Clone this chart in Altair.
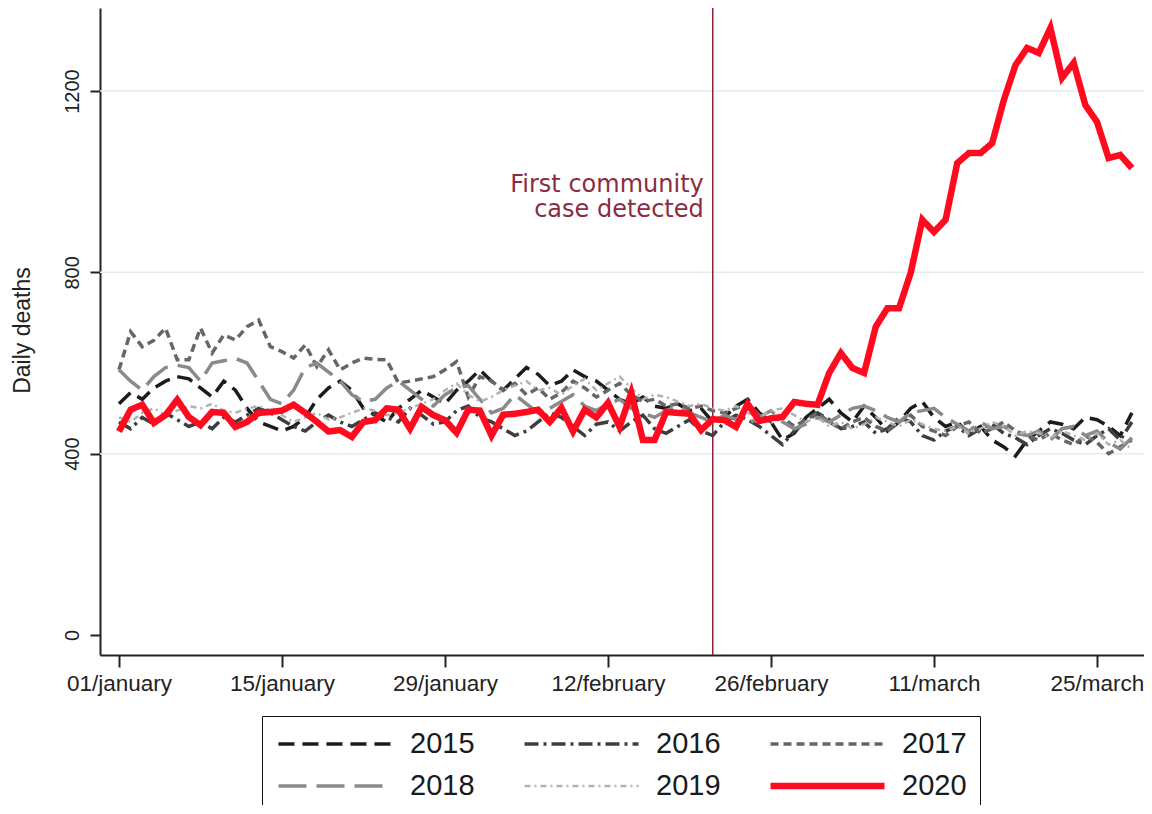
import altair as alt
import pandas as pd

days = list(range(1, 89))
years = ["2015", "2016", "2017", "2018", "2019", "2020"]

d2015 = [510, 535, 520, 545, 560, 570, 565, 545, 525, 560,
         540, 500, 470, 460, 450, 460, 480, 520, 545, 560,
         540, 500, 485, 470, 500, 520, 540, 525, 510, 540,
         560, 585, 560, 540, 565, 590, 575, 550, 560, 585,
         570, 560, 540, 520, 510, 525, 505, 500, 510, 495,
         500, 470, 480, 505, 520, 490, 470, 430, 445, 480,
         500, 520, 490, 470, 505, 480, 450, 470, 500, 515,
         480, 460, 470, 445, 460, 430, 415, 395, 430, 450,
         470, 465, 455, 480, 475, 460, 440, 490]
d2016 = [470, 455, 480, 465, 490, 475, 460, 470, 455, 480,
         470, 485, 500, 490, 475, 460, 450, 470, 485, 470,
         460, 475, 490, 480, 470, 500, 485, 465, 470, 495,
         505, 480, 470, 455, 440, 450, 470, 490, 480, 460,
         440, 465, 470, 450, 470, 485, 455, 445, 460, 475,
         450, 440, 470, 485, 475, 460, 440, 420, 450, 470,
         490, 475, 455, 460, 470, 445, 455, 480, 470, 440,
         430, 450, 460, 440, 455, 465, 445, 435, 420, 440,
         455, 445, 430, 420, 440, 455, 430, 470]
d2017 = [585, 669, 636, 650, 677, 607, 607, 677, 622, 662,
         651, 680, 695, 636, 625, 611, 640, 592, 629, 585,
         600, 611, 608, 607, 556, 560, 565, 570, 585, 603,
         525, 570, 560, 540, 555, 530, 545, 520, 535, 560,
         545, 525, 540, 555, 530, 515, 520, 505, 510, 500,
         505, 495, 490, 500, 510, 485, 470, 480, 460, 475,
         490, 470, 455, 470, 480, 460, 450, 470, 485, 460,
         450, 440, 460, 470, 445, 455, 470, 450, 440, 430,
         445, 430, 420, 440, 425, 400, 415, 430]
d2018 = [585, 560, 540, 570, 590, 595, 590, 560, 600, 605,
         610, 600, 560, 520, 510, 540, 590, 600, 580, 560,
         530, 515, 520, 545, 560, 540, 520, 505, 530, 545,
         550, 520, 490, 500, 530, 510, 490, 500, 515, 530,
         505, 495, 510, 520, 500, 490, 480, 495, 505, 490,
         480, 470, 485, 475, 465, 480, 495, 470, 455, 465,
         480, 470, 485, 500, 505, 495, 480, 470, 490, 495,
         500, 480, 465, 450, 470, 455, 460, 445, 440, 450,
         430, 455, 460, 440, 450, 425, 410, 435]
d2019 = [480, 470, 490, 500, 485, 495, 505, 500, 510, 495,
         490, 500, 505, 495, 485, 470, 480, 490, 475, 480,
         490, 500, 495, 485, 490, 500, 510, 520, 540, 555,
         530, 515, 525, 540, 550, 560, 540, 545, 530, 550,
         565, 540, 555, 570, 545, 520, 530, 525, 515, 505,
         510, 500, 495, 505, 490, 480, 495, 500, 485, 470,
         480, 460, 470, 455, 465, 480, 470, 460, 475, 465,
         455, 450, 460, 445, 455, 470, 460, 440, 450, 445,
         435, 450, 440, 430, 445, 420, 430, 410]
d2020 = [449, 497, 508, 468, 485, 519, 481, 463, 492, 490,
         459, 470, 490, 492, 495, 508, 490, 470, 449, 452,
         437, 470, 474, 500, 497, 455, 503, 485, 474, 446,
         497, 495, 440, 486, 488, 492, 497, 470, 501, 449,
         497, 480, 512, 459, 534, 430, 430, 492, 490, 488,
         452, 476, 474, 459, 510, 472, 478, 481, 514, 510,
         508, 578, 622, 589, 578, 680, 721, 721, 799, 916,
         889, 916, 1041, 1063, 1063, 1085, 1180, 1257, 1295, 1284,
         1339, 1229, 1262, 1169, 1132, 1052, 1059, 1030]

tick_days = [1, 15, 29, 43, 57, 71, 85]
tick_labels = ["01/january", "15/january", "29/january", "12/february",
               "26/february", "11/march", "25/march"]
y_ticks = [0, 400, 800, 1200]
grid_values = [400, 800, 1200]
event_day = [52]
event_label = ["First community", "case detected"]
event_label_y = [992]

colors = ["#1c1c1c", "#3e3e3e", "#666666", "#8a8a8a", "#b2b2b2", "#ff0a1e"]
dashes = [[16, 8], [14, 5, 3, 5], [8, 5], [28, 10], [6, 4, 2, 4], [1, 0]]
widths = [3.5, 3.5, 3.5, 3.5, 2.5, 6.5]

series = [d2015, d2016, d2017, d2018, d2019, d2020]
rows = []
for yr, vals in zip(years, series):
    for d, v in zip(days, vals):
        rows.append({"day": d, "year": yr, "deaths": v})
df = pd.DataFrame(rows)
df_old = df[df["year"] != "2020"]
df_new = df[df["year"] == "2020"]

grid_df = pd.DataFrame({"deaths": grid_values})
event_df = pd.DataFrame({"day": event_day})
label_df = pd.DataFrame({"day": event_day, "deaths": event_label_y})

label_expr = "{" + ", ".join(f"'{d}': '{l}'" for d, l in zip(tick_days, tick_labels)) + "}[datum.value]"

x_enc = alt.X("day:Q",
              scale=alt.Scale(domain=[-0.63, 89.04], nice=False, zero=False),
              axis=alt.Axis(values=tick_days, labelExpr=label_expr, title=None, grid=False,
                            tickSize=12, labelPadding=5, labelFontSize=22.5,
                            labelFont="Liberation Sans", labelColor="#222222",
                            domainColor="#222222", tickColor="#222222",
                            domainWidth=2, tickWidth=2, labelOverlap=False, labelFlush=False))
y_enc = alt.Y("deaths:Q",
              scale=alt.Scale(domain=[-44.1, 1383.1], nice=False, zero=False),
              axis=alt.Axis(values=y_ticks, format="d", title="Daily deaths", grid=False,
                            tickSize=10, labelPadding=8, labelAngle=270,
                            labelAlign="center", labelBaseline="bottom",
                            labelFontSize=20, labelFont="Liberation Sans", labelColor="#222222",
                            titleFont="Liberation Sans", titleFontSize=23, titleFontWeight="normal",
                            titleColor="#222222", titleAngle=270, titleX=-78, titleY=322,
                            titleAlign="center", titleBaseline="middle",
                            domainColor="#222222", tickColor="#222222",
                            domainWidth=2, tickWidth=2, labelOverlap=False, labelFlush=False))

color_enc = alt.Color("year:N", title=None,
                      scale=alt.Scale(domain=years, range=colors),
                      legend=alt.Legend(orient="none", legendX=162, legendY=708,
                                        columns=3, direction="horizontal",
                                        symbolType="stroke", symbolSize=12996,
                                        clipHeight=30,
                                        rowPadding=12, columnPadding=46,
                                        labelOffset=14, symbolOffset=0,
                                        labelFont="Liberation Sans", labelFontSize=29,
                                        labelColor="#1a1a1a", labelLimit=0,
                                        strokeColor="#111111", padding=13))
dash_enc = alt.StrokeDash("year:N", title=None,
                          scale=alt.Scale(domain=years, range=dashes))
width_enc = alt.StrokeWidth("year:N", title=None,
                            scale=alt.Scale(type="ordinal", domain=years, range=widths))

grid = alt.Chart(grid_df).mark_rule(color="#e3edf0", strokeWidth=1.5).encode(y=y_enc)
vline = alt.Chart(event_df).mark_rule(color="#8b2236", strokeWidth=1.5).encode(x=x_enc)
old = alt.Chart(df_old).mark_line().encode(
    x=x_enc, y=y_enc, color=color_enc, strokeDash=dash_enc, strokeWidth=width_enc)
new = alt.Chart(df_new).mark_line(strokeJoin="miter").encode(
    x=x_enc, y=y_enc, color=color_enc, strokeDash=dash_enc, strokeWidth=width_enc)
text = alt.Chart(label_df).mark_text(
    text=event_label, align="right", baseline="middle", dx=-9,
    font="DejaVu Sans", fontSize=24, lineHeight=24.5, color="#8b2c40"
).encode(x=x_enc, y=y_enc)

chart = alt.layer(grid, vline, old, new, text).properties(
    width=1044, height=647,
    autosize=alt.AutoSizeParams(type="none"),
    padding={"left": 92, "right": 0, "top": 0, "bottom": 150},
).configure_view(stroke=None)

chart.save("out.html", embed_options={"renderer": "svg", "actions": False})
